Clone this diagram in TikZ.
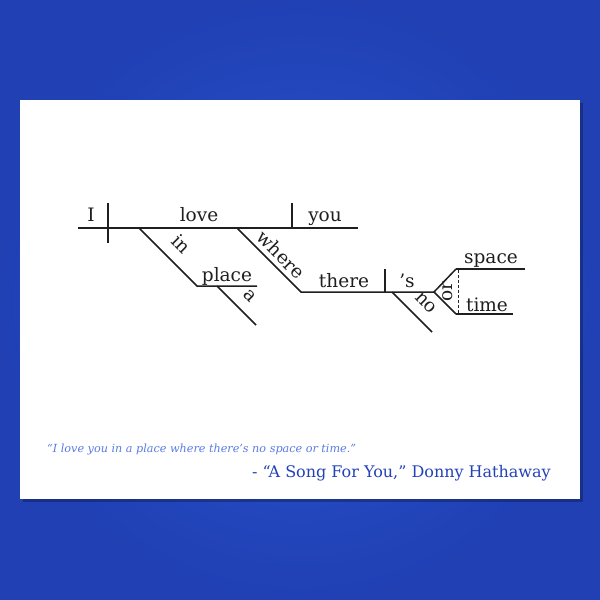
\documentclass[tikz,border=0pt]{standalone}
\usepackage{fontspec}
\setmainfont{DejaVu Serif}
\begin{document}
\begin{tikzpicture}[x=1pt,y=-1pt,
  ln/.style={line width=1.5pt, draw=black!88},
  wd/.style={inner sep=0pt, font=\fontsize{18.5}{18.5}\selectfont, text=black!88},
  sl/.style={wd, sloped, above=5pt}]
\definecolor{bgin}{HTML}{2B55D2}
\definecolor{bgout}{HTML}{2040B4}
\definecolor{qlight}{HTML}{5A7BE3}
\definecolor{qdark}{HTML}{2243B8}
\useasboundingbox (0,0) rectangle (600,600);
\shade[inner color=bgin, outer color=bgout] (0,0) rectangle (600,600);
\fill[black, opacity=.25] (23,103) rectangle (583,502);
\fill[white] (20,100) rectangle (580,499);
% coordinates
\coordinate (m0) at (78,228);
\coordinate (m1) at (358,228);
\coordinate (sv1) at (108,203);
\coordinate (sv2) at (108,243);
\coordinate (vo1) at (292,203);
\coordinate (vo2) at (292,228);
\coordinate (in0) at (139,228);
\coordinate (in1) at (197,286);
\coordinate (pl1) at (257,286);
\coordinate (a0) at (217,286);
\coordinate (a1) at (256,325);
\coordinate (wh0) at (237,228);
\coordinate (wh1) at (301,292);
\coordinate (th1) at (434,292);
\coordinate (ts1) at (385,269);
\coordinate (ts2) at (385,292);
\coordinate (no0) at (392,292);
\coordinate (no1) at (432,332);
\coordinate (fk1) at (456,269);
\coordinate (sp1) at (525,269);
\coordinate (fk2) at (456,314);
\coordinate (ti1) at (513,314);
\coordinate (ds1) at (458,270);
\coordinate (ds2) at (458,313);
% lines
\draw[ln] (m0) -- (m1);
\draw[ln] (sv1) -- (sv2);
\draw[ln] (vo1) -- (vo2);
\draw[ln] (in0) -- (in1) -- (pl1);
\draw[ln] (a0) -- (a1);
\draw[ln] (wh0) -- (wh1) -- (th1);
\draw[ln] (ts1) -- (ts2);
\draw[ln] (no0) -- (no1);
\draw[ln] (fk1) -- (th1) -- (fk2);
\draw[ln] (fk1) -- (sp1);
\draw[ln] (fk2) -- (ti1);
\draw[line width=0.9pt, draw=black!85, dash pattern=on 3pt off 2pt] (ds1) -- (ds2);
% words
\node[wd, anchor=base] (wI) at (91,221) {I};
\node[wd, anchor=base] (wlove) at (199,221) {love};
\node[wd, anchor=base] (wyou) at (325,221) {you};
\node[wd, anchor=base] (wplace) at (227,281) {place};
\node[wd, anchor=base] (wthere) at (344,287) {there};
\node[wd, anchor=base] (ws) at (407,287) {’s};
\node[wd, anchor=base] (wspace) at (491,263) {space};
\node[wd, anchor=base] (wtime) at (487,311) {time};
\path (in0) -- (in1) node[sl, pos=.5, above=7pt] (win) {in};
\path (wh0) -- (wh1) node[sl, pos=.55] (wwhere) {where};
\path (a0) -- (a1) node[sl, pos=.55, above=6pt] (wa) {a};
\path (no0) -- (no1) node[sl, pos=.56, above=6pt] (wno) {no};
\node[wd, rotate=90] (wor) at (448,292) {or};
% quote
\node[inner sep=0pt, anchor=base west, text=qlight, font=\fontsize{11.2}{11.2}\selectfont\itshape] (q1) at (47,452) {“I love you in a place where there’s no space or time.”};
\node[inner sep=0pt, anchor=base east, text=qdark, font=\fontsize{16}{16}\selectfont] (q2) at (551,477) {- “A Song For You,” Donny Hathaway};
\end{tikzpicture}
\end{document}
